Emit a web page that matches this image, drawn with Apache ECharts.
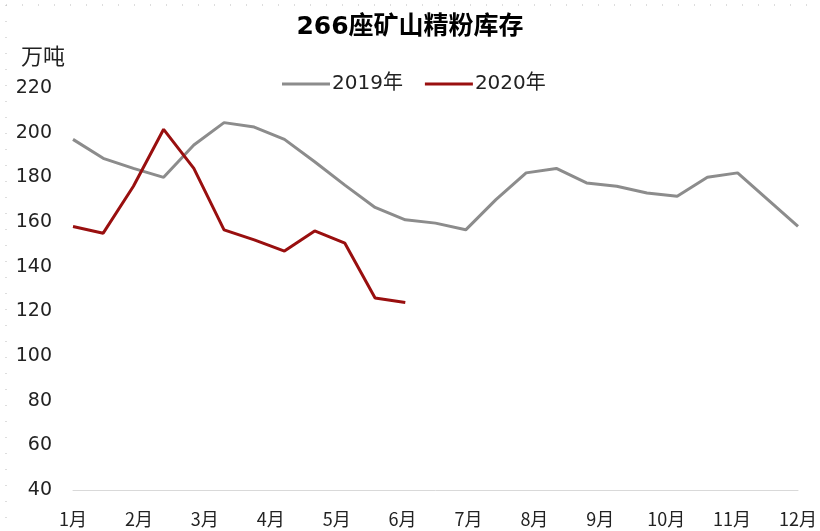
<!DOCTYPE html>
<html lang="zh">
<head>
    <meta charset="UTF-8">
    <title>266座矿山精粉库存</title>
    <script src="https://cdn.jsdelivr.net/npm/echarts@6/dist/echarts.min.js"></script>
    <style>
        html, body { margin: 0; padding: 0; background: #fff; }
    </style>
</head>
<body>
    <div id="graph" style="width: 820px; height: 531px;"></div>

    <script>
        // semi-monthly observations
        var points = [];
        for (var i = 0; i < 25; i++) points.push('p' + i);
        var months = ['1月', '2月', '3月', '4月', '5月', '6月', '7月', '8月', '9月', '10月', '11月', '12月'];
        var v2019 = [197, 188.5, 184, 180, 194.5, 204.5, 202.5, 197, 187, 176.5, 166.5, 161, 159.5, 156.5, 170, 182, 184, 177.5, 176, 173, 171.5, 180, 182, 170, 158];
        var v2020 = [158, 155, 176, 201.5, 184, 156.5, 152, 147, 156, 150.5, 126, 124];

        var font = '"DejaVu Sans", "Noto Sans CJK SC", sans-serif';
        var cjk = '"Noto Sans CJK SC", "Noto Sans", sans-serif';

        var myChart = echarts.init(document.getElementById('graph'));
        var option = {
            backgroundColor: '#fff',
            animation: false,
            title: {
                text: '266座矿山精粉库存',
                left: 'center',
                top: 10,
                textStyle: { fontFamily: font, fontSize: 25, fontWeight: 'bold', color: '#000' }
            },
            legend: {
                top: 69,
                left: 277,
                itemWidth: 48,
                itemHeight: 3,
                itemGap: 22,
                icon: 'rect',
                textStyle: { fontFamily: font, fontSize: 20, color: '#222', padding: [0, 0, 0, -3] },
                data: ['2019年', '2020年']
            },
            graphic: [
                { type: 'text', left: 21, top: 45, style: { text: '万吨', font: '22px ' + cjk, fill: '#222' } },
                { type: 'line', shape: { x1: 6, y1: 5, x2: 815, y2: 5 }, style: { stroke: '#bbb', lineWidth: 1, lineDash: [1, 15] } },
                { type: 'line', shape: { x1: 6, y1: 5, x2: 6, y2: 531 }, style: { stroke: '#bbb', lineWidth: 1, lineDash: [1, 15] } }
            ],
            grid: { left: 73, right: 18, top: 88, bottom: 41, containLabel: false },
            xAxis: [{
                type: 'category',
                data: points,
                boundaryGap: false,
                axisLine: { lineStyle: { color: '#d9d9d9', width: 1 } },
                axisTick: { show: false },
                axisLabel: { show: false }
            }, {
                type: 'category',
                data: months,
                position: 'bottom',
                boundaryGap: false,
                axisLine: { show: false },
                axisTick: { show: false },
                axisLabel: { margin: 20, interval: 0, fontFamily: cjk, fontSize: 18, color: '#222' }
            }],
            yAxis: {
                type: 'value',
                min: 40,
                max: 220,
                interval: 20,
                axisLine: { show: false },
                axisTick: { show: false },
                splitLine: { show: false },
                axisLabel: { margin: 21, fontFamily: font, fontSize: 19, color: '#222' }
            },
            series: [{
                name: '2019年',
                type: 'line',
                xAxisIndex: 0,
                data: v2019,
                showSymbol: false,
                lineStyle: { color: '#8c8c8c', width: 3 },
                itemStyle: { color: '#8c8c8c' }
            }, {
                name: '2020年',
                type: 'line',
                xAxisIndex: 0,
                data: v2020,
                showSymbol: false,
                lineStyle: { color: '#990f0f', width: 3 },
                itemStyle: { color: '#990f0f' }
            }]
        };
        myChart.setOption(option);
    </script>
</body>
</html>
